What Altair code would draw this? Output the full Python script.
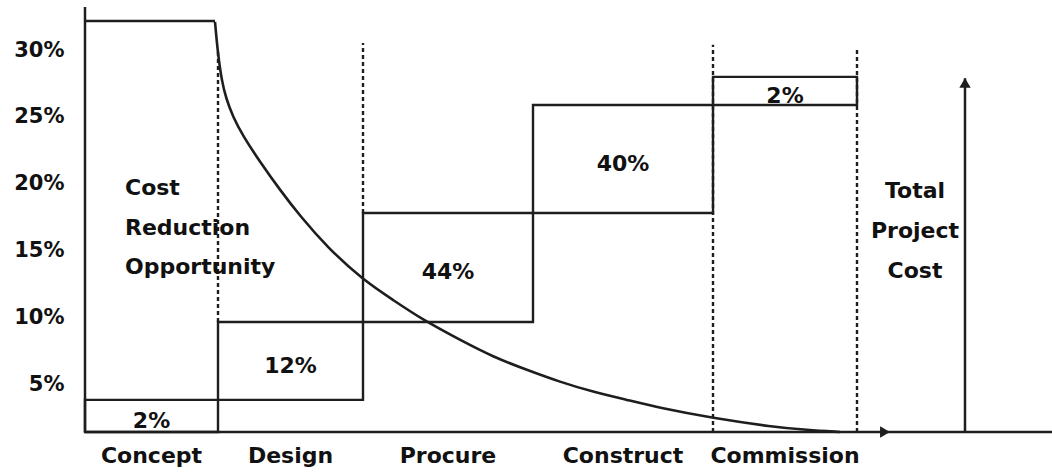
import altair as alt
import pandas as pd

# Project phases along the timeline and their boundaries (timeline units)
phases = ["Concept", "Design", "Procure", "Construct", "Commission"]
phase_edges = [0.0, 13.3, 27.8, 44.8, 62.8, 77.2]

# Cumulative project cost (% of total) at the bottom / top of each phase block
block_low = [1.44, 3.84, 9.67, 17.82, 25.9]
block_high = [3.84, 9.67, 17.82, 25.9, 28.0]
block_share = ["2%", "12%", "44%", "40%", "2%"]

# Tall "cost reduction opportunity" frame around the concept phase
concept_top = 32.18
concept_axis_top = 33.23

# Cost reduction opportunity curve
curve_t = [13.0, 13.3, 13.7, 14.1, 14.8, 15.8, 17.5, 19.5, 21.5, 24.2, 27.8, 30.8, 33.8,
           37.5, 40.8, 44.2, 47.5, 50.8, 54.2, 57.5, 62.7, 68.8, 72.2, 75.5]
curve_v = [32.11, 29.64, 27.62, 26.42, 25.0, 23.58, 21.64, 19.54, 17.60, 15.28, 12.81, 11.32, 9.82,
           8.33, 7.06, 6.08, 5.18, 4.44, 3.84, 3.24, 2.49, 1.82, 1.59, 1.44]

# Dotted phase dividers
divider_t = [13.3, 27.8, 62.8, 77.2]
divider_top = [30.02, 30.54, 30.40, 30.24]
divider_bottom = [9.67, 17.82, 1.44, 1.44]

# Axis extents and the "Total Project Cost" arrow
y_ticks = [5, 10, 15, 20, 25, 30]
baseline = 1.44
timeline_end = 96.7
time_arrow_tip = 80.0
total_arrow_t = 88.0
total_arrow_top = 27.9

notes_left = ["Cost", "Reduction", "Opportunity"]
notes_left_t = 4.0
notes_left_v = [19.68, 16.69, 13.78]
notes_right = ["Total", "Project", "Cost"]
notes_right_t = 83.0
notes_right_v = [19.47, 16.48, 13.48]

INK = "#1e1e1e"
TEXT = "#111111"
FONT = "DejaVu Sans"

xs = alt.Scale(domain=[0, timeline_end], nice=False, zero=False)
ys = alt.Scale(domain=[1.44, 33.75], nice=False, zero=False)
yaxis = alt.Axis(values=y_ticks, labelExpr="datum.value + '%'", title=None,
                 domain=False, ticks=False, grid=False, labelPadding=21,
                 labelFont=FONT, labelFontSize=21, labelFontWeight="bold",
                 labelColor=TEXT)

blocks = pd.DataFrame({
    "phase": phases,
    "t0": phase_edges[:-1],
    "t1": phase_edges[1:],
    "lo": block_low,
    "hi": block_high,
    "share": block_share,
})
blocks["mid_t"] = (blocks["t0"] + blocks["t1"]) / 2
blocks["mid_v"] = (blocks["lo"] + blocks["hi"]) / 2

segments = pd.DataFrame({
    "t0": [0.0, 0.0, 0.0, total_arrow_t],
    "t1": [0.0, phase_edges[1] - 0.3, timeline_end, total_arrow_t],
    "v0": [baseline, concept_top, baseline, baseline],
    "v1": [concept_axis_top, concept_top, baseline, total_arrow_top],
})

dividers = pd.DataFrame({"t": divider_t, "top": divider_top, "bottom": divider_bottom})
curve = pd.DataFrame({"t": curve_t, "v": curve_v})

heads = pd.DataFrame({
    "t": [time_arrow_tip, total_arrow_t],
    "v": [baseline, total_arrow_top - 0.35],
    "shape": ["triangle-right", "triangle-up"],
})

notes = pd.DataFrame({
    "text": notes_left + notes_right,
    "t": [notes_left_t] * 3 + [notes_right_t] * 3,
    "v": notes_left_v + notes_right_v,
    "align": ["left"] * 3 + ["center"] * 3,
})

rects = alt.Chart(blocks).mark_rect(fillOpacity=0, stroke=INK, strokeWidth=2.4).encode(
    x=alt.X("t0:Q", scale=xs, axis=None),
    x2="t1:Q",
    y=alt.Y("lo:Q", scale=ys, axis=yaxis),
    y2="hi:Q",
)

lines = alt.Chart(segments).mark_rule(color=INK, strokeWidth=2.5).encode(
    x=alt.X("t0:Q", scale=xs, axis=None),
    x2="t1:Q",
    y=alt.Y("v0:Q", scale=ys, axis=yaxis),
    y2="v1:Q",
)

dots = alt.Chart(dividers).mark_rule(color=INK, strokeWidth=2.4, strokeDash=[4, 3]).encode(
    x=alt.X("t:Q", scale=xs, axis=None),
    y=alt.Y("bottom:Q", scale=ys, axis=yaxis),
    y2="top:Q",
)

reduction = alt.Chart(curve).mark_line(color=INK, strokeWidth=2.6, interpolate="basis").encode(
    x=alt.X("t:Q", scale=xs, axis=None),
    y=alt.Y("v:Q", scale=ys, axis=yaxis),
)

arrowheads = alt.Chart(heads).mark_point(filled=True, color=INK, size=130, opacity=1).encode(
    x=alt.X("t:Q", scale=xs, axis=None),
    y=alt.Y("v:Q", scale=ys, axis=yaxis),
    shape=alt.Shape("shape:N", scale=None, legend=None),
)

share_text = alt.Chart(blocks).mark_text(
    font=FONT, fontSize=22, fontWeight="bold", color=TEXT, baseline="middle", dy=5
).encode(
    x=alt.X("mid_t:Q", scale=xs, axis=None),
    y=alt.Y("mid_v:Q", scale=ys, axis=yaxis),
    text="share:N",
)

phase_text = alt.Chart(blocks).mark_text(
    font=FONT, fontSize=22, fontWeight="bold", color=TEXT, baseline="middle", dy=24
).encode(
    x=alt.X("mid_t:Q", scale=xs, axis=None),
    y=alt.Y("lo:Q", scale=ys, axis=yaxis),
    text="phase:N",
).transform_calculate(lo=str(baseline))

note_left = alt.Chart(notes[notes["align"] == "left"]).mark_text(
    font=FONT, fontSize=22, fontWeight="bold", color=TEXT, baseline="middle", align="left"
).encode(
    x=alt.X("t:Q", scale=xs, axis=None),
    y=alt.Y("v:Q", scale=ys, axis=yaxis),
    text="text:N",
)

note_right = alt.Chart(notes[notes["align"] == "center"]).mark_text(
    font=FONT, fontSize=22, fontWeight="bold", color=TEXT, baseline="middle", align="center"
).encode(
    x=alt.X("t:Q", scale=xs, axis=None),
    y=alt.Y("v:Q", scale=ys, axis=yaxis),
    text="text:N",
)

chart = alt.layer(
    rects, dots, lines, reduction, arrowheads, share_text, phase_text, note_left, note_right
).properties(
    width=967,
    height=432,
    padding={"left": 85, "top": 0, "right": 0, "bottom": 40},
    autosize=alt.AutoSizeParams(type="none"),
    background="white",
).configure_view(stroke=None)

chart.save("out.html", embed_options={"renderer": "svg", "actions": False})
